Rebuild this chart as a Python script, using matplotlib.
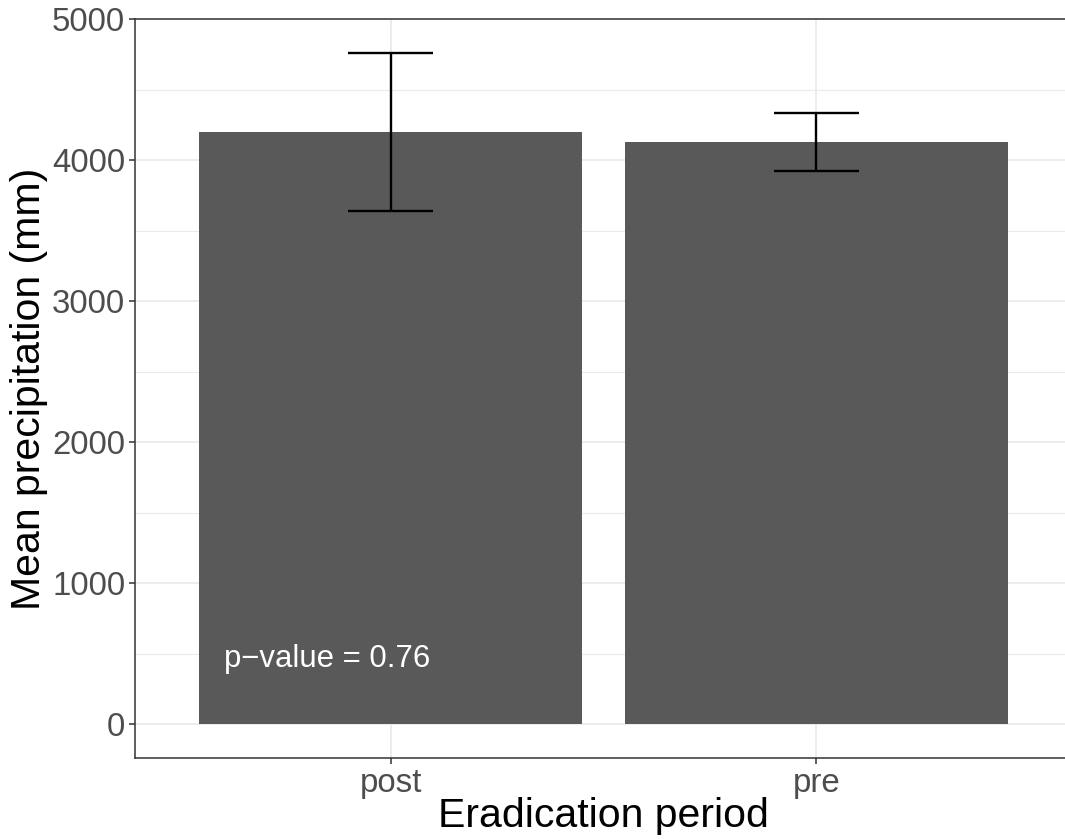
import matplotlib.pyplot as plt
import numpy as np

# mean precipitation per eradication period, with error bar half-widths
periods = ["post", "pre"]
mean_precip = [4200, 4127]
err_precip = [562, 206]
p_label = "p\u2212value = 0.76"

plt.rcParams["font.family"] = ["Liberation Sans", "DejaVu Sans"]

fig = plt.figure(figsize=(10.65, 8.39), dpi=100)
ax = fig.add_axes([135 / 1065, 81 / 839, 937 / 1065, 739 / 839])

x = np.arange(len(periods))
bar_w = 0.9
cap_w = 0.2

# grid (theme_bw style)
for y in np.arange(500, 5000, 1000):
    ax.axhline(y, color="#EBEBEB", lw=0.8, zorder=0)
for y in np.arange(0, 5001, 1000):
    ax.axhline(y, color="#EBEBEB", lw=1.3, zorder=0)
for xi in x:
    ax.axvline(xi, color="#EBEBEB", lw=1.3, zorder=0)

ax.bar(x, mean_precip, width=bar_w, color="#595959", zorder=2)

lo = np.array(mean_precip) - np.array(err_precip)
hi = np.array(mean_precip) + np.array(err_precip)
ax.vlines(x, lo, hi, color="black", lw=1.7, zorder=3)
ax.hlines(lo, x - cap_w / 2, x + cap_w / 2, color="black", lw=1.7, zorder=3)
ax.hlines(hi, x - cap_w / 2, x + cap_w / 2, color="black", lw=1.7, zorder=3)

ax.text(-0.15, 465, p_label, color="white", fontsize=22.4,
        ha="center", va="center", zorder=4)

ax.set_xlim(-0.6, 1.6)
ax.set_ylim(-238, 5000)
ax.set_xticks(x)
ax.set_xticklabels(periods)
ax.set_yticks(np.arange(0, 5001, 1000))

for side in ["left", "bottom", "top", "right"]:
    ax.spines[side].set_color("#333333")
    ax.spines[side].set_linewidth(1.1)

ax.tick_params(axis="both", colors="#333333", length=4, width=1.1,
               labelsize=23.8, labelcolor="#4D4D4D", pad=3)

ax.set_xlabel("Eradication period", fontsize=29.5, color="black", labelpad=-1)
ax.set_ylabel("Mean precipitation (mm)", fontsize=29.5, color="black", labelpad=3)

fig.savefig("out.png", dpi=100)
